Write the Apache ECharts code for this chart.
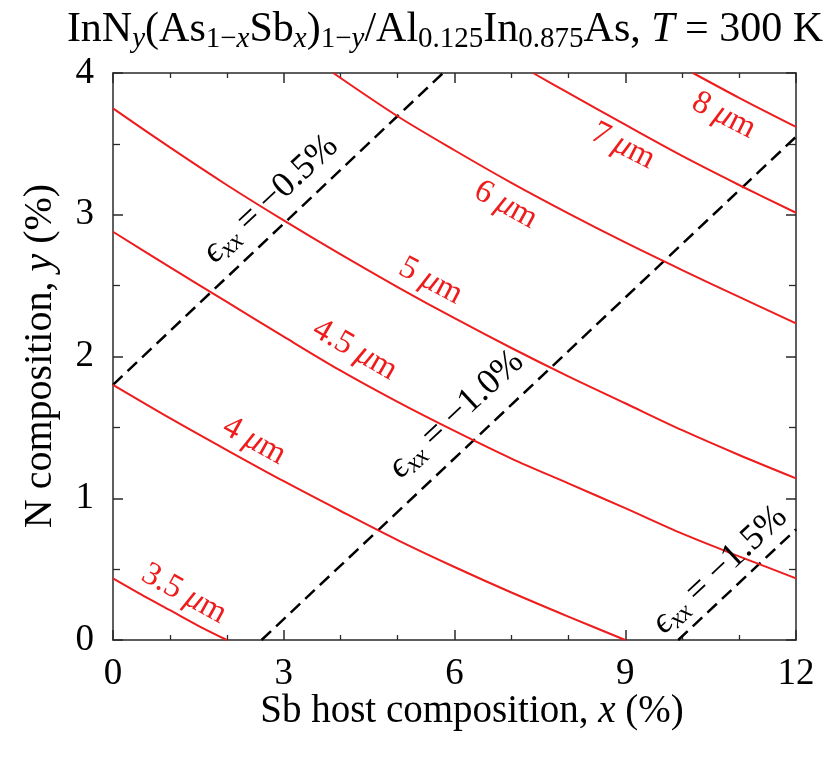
<!DOCTYPE html>
<html>
<head>
<meta charset="utf-8">
<script src="https://cdn.jsdelivr.net/npm/echarts@6/dist/echarts.min.js"></script>
<style>
  html, body { margin: 0; padding: 0; background: #fff; }
  #chart { width: 839px; height: 759px; }
</style>
</head>
<body>
<div id="chart"></div>
<script>
// Cut-off wavelength contours, points are [Sb x (%), N y (%)]
const curve35 = [[0, 0.435], [0.5, 0.32], [1, 0.21], [1.5, 0.10], [2, 0]];
const curve40 = [[0, 1.80], [1, 1.565], [2, 1.34], [3, 1.12], [4, 0.91], [5, 0.705], [6, 0.515], [7, 0.335], [8, 0.165], [9, 0]];
const curve45 = [[0, 2.88], [1, 2.63], [2, 2.385], [3, 2.14], [4, 1.90], [5, 1.68], [6, 1.475], [7, 1.28], [8, 1.105], [9, 0.93], [10, 0.75], [11, 0.59], [12, 0.435]];
const curve50 = [[0, 3.75], [1, 3.475], [2, 3.21], [3, 2.96], [4, 2.72], [5, 2.49], [6, 2.27], [7, 2.06], [8, 1.86], [9, 1.67], [10, 1.48], [11, 1.305], [12, 1.14]];
const curve60 = [[3.87, 4], [5, 3.695], [6, 3.455], [7, 3.225], [8, 3.01], [9, 2.805], [10, 2.61], [11, 2.42], [12, 2.234]];
const curve70 = [[7.38, 4], [8, 3.86], [9, 3.635], [10, 3.415], [11, 3.21], [12, 3.014]];
const curve80 = [[10.19, 4], [11, 3.825], [12, 3.62]];

// Lines of constant in-plane strain
const strain05 = [[0, 1.80], [5.80, 4]];
const strain10 = [[2.61, 0], [12, 3.55]];
const strain15 = [[9.93, 0], [12, 0.78]];

// Contour names and where their captions sit
const wavelengths = ['3.5', '4', '4.5', '5', '6', '7', '8'];
const wavelengthLabelAt = [[1.25, 0.325], [2.48, 1.404], [4.25, 2.046], [5.58, 2.533], [6.90, 3.07], [8.96, 3.485], [10.73, 3.70]];
const wavelengthLabelAngle = [-29, -29, -30, -28, -29, -27, -27];

const strains = ['−0.5%', '−1.0%', '−1.5%'];
const strainLabelAt = [[2.77, 3.11], [6.03, 1.59], [10.66, 0.494]];
const strainLabelAngle = 43;

// Axis ticks
const xTicks = [0, 3, 6, 9, 12];
const yTicks = [0, 1, 2, 3, 4];

const FONT = '"Liberation Serif", "DejaVu Serif", serif';
const RED = '#ee1c1c';
const AXIS = '#2a2a2a';

const chart = echarts.init(document.getElementById('chart'), null, { renderer: 'canvas' });

function contour(data) {
  return {
    type: 'line', data, xAxisIndex: 0, yAxisIndex: 0,
    smooth: 0.3, symbol: 'none', silent: true,
    lineStyle: { color: RED, width: 2 }, z: 3
  };
}
function strainLine(data) {
  return {
    type: 'line', data, xAxisIndex: 0, yAxisIndex: 0,
    symbol: 'none', silent: true,
    lineStyle: { color: '#000', width: 2.5, type: [13, 7] }, z: 2
  };
}

// Text styles: roman, italic, and lowered (subscript) variants
const labelRich = (size, color) => {
  const base = { fontFamily: FONT, color, opacity: 1, textBorderWidth: 0, textBorderColor: 'transparent' };
  const sub = Math.round(size * 0.7);
  const pad = Math.round(size * 0.42);
  return {
    r: Object.assign({ fontSize: size }, base),
    i: Object.assign({ fontSize: size, fontStyle: 'italic' }, base),
    si: Object.assign({ fontSize: sub, fontStyle: 'italic', padding: [pad, 0, 0, 0] }, base),
    s: Object.assign({ fontSize: sub, padding: [pad, 0, 0, 0] }, base)
  };
};

const wavelengthLabels = wavelengths.map((w, k) => ({
  value: wavelengthLabelAt[k],
  label: { formatter: '{r|' + w + ' }{i|μ}{r|m}', rotate: wavelengthLabelAngle[k] }
}));
const strainLabels = strains.map((s, k) => ({
  value: strainLabelAt[k],
  label: { formatter: '{i|ϵ}{si|xx}{r| = ' + s + '}', rotate: strainLabelAngle }
}));

const xAxisBase = {
  type: 'value', min: 0, max: 12, interval: 3,
  axisLine: { show: true, onZero: false, lineStyle: { color: AXIS, width: 1.5 } },
  axisTick: { show: true, inside: true, length: 10, lineStyle: { color: AXIS, width: 1.5 } },
  minorTick: { show: true, splitNumber: 3, length: 5, lineStyle: { color: AXIS, width: 1.3 } },
  splitLine: { show: false }
};
const yAxisBase = {
  type: 'value', min: 0, max: 4, interval: 1,
  axisLine: { show: true, onZero: false, lineStyle: { color: AXIS, width: 1.5 } },
  axisTick: { show: true, inside: true, length: 10, lineStyle: { color: AXIS, width: 1.5 } },
  minorTick: { show: true, splitNumber: 2, length: 7, lineStyle: { color: AXIS, width: 1.3 } },
  splitLine: { show: false }
};

const captionSeries = (data, size, color) => ({
  type: 'scatter', data, symbolSize: 1, silent: true,
  itemStyle: { color: 'rgba(0,0,0,0)', opacity: 1 }, z: 5,
  label: {
    show: true, position: 'inside', opacity: 1, color,
    textBorderWidth: 0, rich: labelRich(size, color)
  }
});

const option = {
  backgroundColor: '#fff',
  animation: false,
  grid: { left: 113, top: 73, width: 683, height: 567, containLabel: false },
  xAxis: [
    Object.assign({}, xAxisBase, {
      position: 'bottom',
      axisLabel: {
        show: true, margin: 16, color: '#000', fontFamily: FONT, fontSize: 37,
        formatter: v => (xTicks.includes(v) ? String(v) : '')
      }
    }),
    Object.assign({}, xAxisBase, { position: 'top', axisLabel: { show: false } })
  ],
  yAxis: [
    Object.assign({}, yAxisBase, {
      position: 'left',
      axisLabel: {
        show: true, margin: 19, color: '#000', fontFamily: FONT, fontSize: 37,
        formatter: v => (yTicks.includes(v) ? String(v) : '')
      }
    }),
    Object.assign({}, yAxisBase, { position: 'right', axisLabel: { show: false } })
  ],
  series: [
    contour(curve35), contour(curve40), contour(curve45), contour(curve50),
    contour(curve60), contour(curve70), contour(curve80),
    strainLine(strain05), strainLine(strain10), strainLine(strain15),
    captionSeries(wavelengthLabels, 33, RED),
    captionSeries(strainLabels, 36, '#000')
  ],
  graphic: [
    {
      type: 'text', x: 445, y: 30, silent: true,
      style: {
        text: '{r|InN}{si|y}{r|(As}{s|1−}{si|x}{r|Sb}{si|x}{r|)}{s|1−}{si|y}{r|/Al}{s|0.125}{r|In}{s|0.875}{r|As, }{i|T}{r| = 300 K}',
        align: 'center', verticalAlign: 'middle',
        rich: labelRich(42, '#000')
      }
    },
    {
      type: 'text', x: 472, y: 712, silent: true,
      style: {
        text: '{r|Sb host composition, }{i|x}{r| (%)}',
        align: 'center', verticalAlign: 'middle',
        rich: labelRich(39, '#000')
      }
    },
    {
      type: 'text', x: 40, y: 356, rotation: Math.PI / 2, silent: true,
      style: {
        text: '{r|N composition, }{i|y}{r| (%)}',
        align: 'center', verticalAlign: 'middle',
        rich: labelRich(40, '#000')
      }
    }
  ]
};

chart.setOption(option);
</script>
</body>
</html>
